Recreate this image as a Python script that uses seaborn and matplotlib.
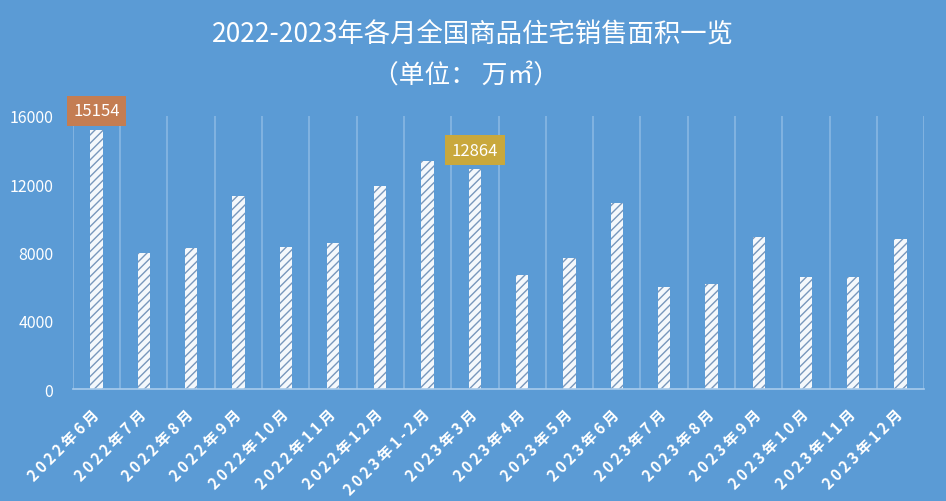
import numpy as np
import pandas as pd
import matplotlib
matplotlib.use("Agg")
import matplotlib.pyplot as plt
import seaborn as sns

months = ["2022年6月", "2022年7月", "2022年8月", "2022年9月", "2022年10月", "2022年11月",
          "2022年12月", "2023年1-2月", "2023年3月", "2023年4月", "2023年5月", "2023年6月",
          "2023年7月", "2023年8月", "2023年9月", "2023年10月", "2023年11月", "2023年12月"]
area = [15154, 7990, 8270, 11330, 8320, 8560,
        11900, 13380, 12864, 6690, 7680, 10900,
        5980, 6160, 8910, 6570, 6570, 8800]
yticks = [0, 4000, 8000, 12000, 16000]
highlights = {0: "#C47D52", 8: "#C9A83C"}

title = "2022-2023年各月全国商品住宅销售面积一览"
subtitle = "（单位： 万㎡）"

sns.set_theme(style="white")
plt.rcParams['font.family'] = ['Noto Sans CJK SC', 'DejaVu Sans']
plt.rcParams['hatch.linewidth'] = 1.0

bg = "#5B9BD5"
df = pd.DataFrame({"month": months, "area": area})

fig = plt.figure(figsize=(9.46, 5.02), dpi=100, facecolor=bg)
ax = fig.add_axes([0.077, 0.223, 0.9, 0.544])
ax.set_facecolor(bg)

sns.barplot(data=df, x="month", y="area", width=0.26, color="white",
            linewidth=0, ax=ax, saturation=1)
for p in ax.patches:
    p.set_hatch("////")
    p.set_facecolor("#F4F8FC")
    p.set_edgecolor("#7897BC")
    p.set_linewidth(0)

ax.set_ylim(0, 16000)
ax.set_xlim(-0.5, len(months) - 0.5)
ax.set_yticks(yticks)
ax.set_yticklabels([str(v) for v in yticks], color="white", fontsize=11.5)
ax.set_xticks(range(len(months)))
ax.set_xticklabels([])
for i, m in enumerate(months):
    ax.annotate("\u2009".join(list(m)), xy=(i, 0), xytext=(-4, -12), textcoords="offset points",
                rotation=45, rotation_mode="anchor", ha="right", va="top",
                color="white", fontsize=11, fontweight="bold", annotation_clip=False)
ax.tick_params(axis="y", length=0, pad=14)
ax.tick_params(axis="x", length=0)
ax.set_xticks(np.arange(-0.5, len(months), 1), minor=True)
ax.tick_params(axis="x", which="minor", length=0)
ax.grid(which="minor", axis="x", color="#8CBAE4", linewidth=1.1)
ax.grid(which="major", axis="both", visible=False)
ax.set_axisbelow(True)
for s in ["top", "right", "left"]:
    ax.spines[s].set_visible(False)
ax.spines["bottom"].set_color("#A9CCEC")
ax.spines["bottom"].set_linewidth(1.2)
ax.set_xlabel("")
ax.set_ylabel("")

for i, c in highlights.items():
    ax.annotate(str(area[i]), xy=(i, area[i]), xytext=(0, 14), textcoords="offset points",
                ha="center", va="center", color="white", fontsize=12,
                bbox=dict(boxstyle="square,pad=0.4", facecolor=c, edgecolor="none"),
                annotation_clip=False)

fig.text(0.5, 0.930, title, ha="center", va="center", color="white", fontsize=19)
fig.text(0.493, 0.850, subtitle, ha="center", va="center", color="white", fontsize=18.5)

fig.savefig("out.png", dpi=100, facecolor=bg)
